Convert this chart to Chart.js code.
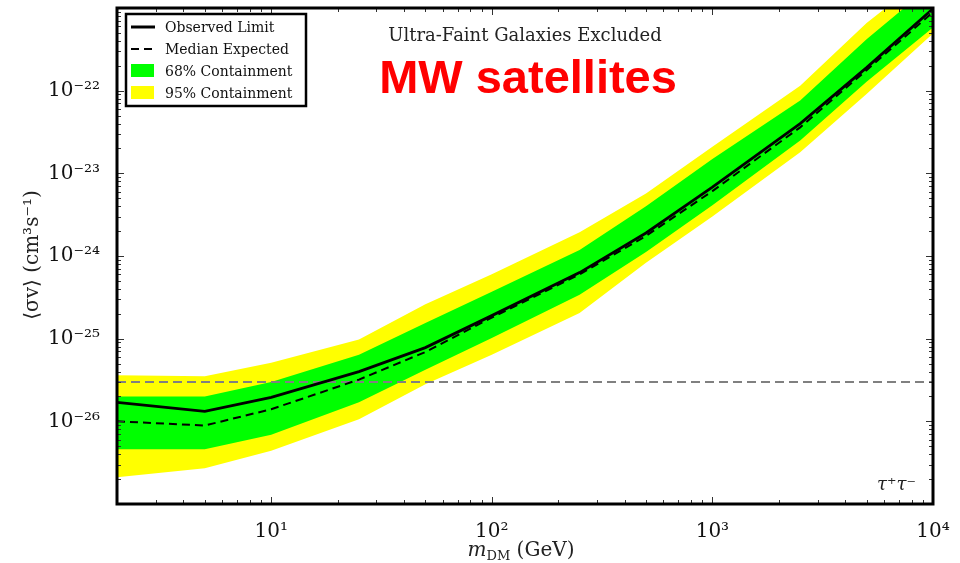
<!DOCTYPE html>
<html>
<head>
<meta charset="utf-8">
<script src="https://cdn.jsdelivr.net/npm/chart.js@4/dist/chart.umd.min.js"></script>
<style>
  html, body { margin: 0; padding: 0; background: #fff; }
  #wrap { width: 960px; height: 563px; position: relative; }
</style>
</head>
<body>
<div id="wrap"><canvas id="limitChart" width="960" height="563"></canvas></div>
<script>
// masses (GeV) and the limits (cm^3 s^-1)
const mass = [2, 5, 10, 25, 50, 100, 250, 500, 1000, 2500, 5000, 10000];
const observed = [1.7e-26, 1.32e-26, 1.95e-26, 4.0e-26, 7.8e-26, 1.9e-25, 6.3e-25, 1.9e-24, 6.8e-24, 4.0e-23, 1.9e-22, 9.8e-22];
const median = [1.0e-26, 8.9e-27, 1.4e-26, 3.2e-26, 6.9e-26, 1.8e-25, 6.0e-25, 1.75e-24, 6.1e-24, 3.6e-23, 1.77e-22, 8.9e-22];
const band68Upper = [2.0e-26, 2.0e-26, 3.0e-26, 6.4e-26, 1.55e-25, 3.7e-25, 1.18e-24, 4.0e-24, 1.49e-23, 7.6e-23, 4.2e-22, 1.95e-21];
const band68Lower = [4.6e-27, 4.6e-27, 6.9e-27, 1.7e-26, 4.2e-26, 1.02e-25, 3.4e-25, 1.12e-24, 4.1e-24, 2.5e-23, 1.28e-22, 5.8e-22];
const band95Upper = [3.6e-26, 3.5e-26, 5.1e-26, 9.8e-26, 2.6e-25, 6.0e-25, 1.94e-24, 5.7e-24, 2.1e-23, 1.15e-22, 6.6e-22, 2.8e-21];
const band95Lower = [2.1e-27, 2.7e-27, 4.4e-27, 1.06e-26, 2.8e-26, 6.4e-26, 2.05e-25, 8.3e-25, 3.0e-24, 1.8e-23, 9.1e-23, 4.9e-22];

// thermal relic cross section
const thermalMass = [2, 10000];
const thermalValue = [3e-26, 3e-26];

const xRange = [2, 1e4];
const yRange = [1e-27, 1e-21];
const xLabelExp = [1, 2, 3, 4];
const yLabelExp = [-26, -25, -24, -23, -22];

const legendItems = [
  { label: 'Observed Limit', kind: 'solid' },
  { label: 'Median Expected', kind: 'dash' },
  { label: '68% Containment', kind: 'box', color: '#00ff00' },
  { label: '95% Containment', kind: 'box', color: '#ffff00' }
];

const SERIF = '"DejaVu Serif", "Liberation Serif", serif';
const SUP = { '0': '⁰', '1': '¹', '2': '²', '3': '³', '4': '⁴', '5': '⁵', '6': '⁶', '7': '⁷', '8': '⁸', '9': '⁹', '-': '⁻' };

const toPoints = (xs, ys) => xs.map((m, i) => ({ x: m, y: ys[i] }));
const isPow10 = v => Math.abs(Math.log10(v) - Math.round(Math.log10(v))) < 1e-9;
const powLabel = e => '10' + String(e).split('').map(c => SUP[c]).join('');

// ticks at 1..9 x 10^n inside the range
function logTicks(min, max) {
  const out = [];
  for (let e = Math.floor(Math.log10(min)); e <= Math.ceil(Math.log10(max)); e++) {
    for (let k = 1; k <= 9; k++) {
      const v = k * Math.pow(10, e);
      if (v >= min * 0.999999 && v <= max * 1.000001) out.push({ value: v });
    }
  }
  return out;
}

// inward ticks on all four sides + frame + texts
const decorations = {
  id: 'decorations',
  afterDraw(chart) {
    const { ctx, chartArea: a, scales: { x, y } } = chart;
    ctx.save();
    ctx.strokeStyle = '#333';
    ctx.lineWidth = 1;
    ctx.beginPath();
    x.ticks.forEach(t => {
      const px = Math.round(x.getPixelForValue(t.value)) + 0.5;
      const len = isPow10(t.value) ? 7 : 4;
      ctx.moveTo(px, a.bottom); ctx.lineTo(px, a.bottom - len);
      ctx.moveTo(px, a.top); ctx.lineTo(px, a.top + len);
    });
    y.ticks.forEach(t => {
      const py = Math.round(y.getPixelForValue(t.value)) + 0.5;
      const len = isPow10(t.value) ? 7 : 4;
      ctx.moveTo(a.left, py); ctx.lineTo(a.left + len, py);
      ctx.moveTo(a.right, py); ctx.lineTo(a.right - len, py);
    });
    ctx.stroke();

    ctx.strokeStyle = '#000';
    ctx.lineWidth = 3;
    ctx.strokeRect(a.left, a.top, a.right - a.left, a.bottom - a.top);

    // legend box
    const lx = 126, ly = 14, lw = 180, lh = 92;
    ctx.fillStyle = '#fff';
    ctx.fillRect(lx, ly, lw, lh);
    ctx.lineWidth = 2.5;
    ctx.strokeRect(lx, ly, lw, lh);
    ctx.font = '14px ' + SERIF;
    ctx.textBaseline = 'middle';
    legendItems.forEach((it, i) => {
      const cy = ly + 13 + i * 22;
      if (it.kind === 'box') {
        ctx.fillStyle = it.color;
        ctx.fillRect(131, cy - 7, 23, 13);
      } else {
        ctx.strokeStyle = '#000';
        ctx.lineWidth = it.kind === 'solid' ? 3 : 2;
        ctx.setLineDash(it.kind === 'solid' ? [] : [8, 5]);
        ctx.beginPath();
        ctx.moveTo(131, cy); ctx.lineTo(155, cy);
        ctx.stroke();
        ctx.setLineDash([]);
      }
      ctx.fillStyle = '#111';
      ctx.textAlign = 'left';
      ctx.fillText(it.label, 165, cy + 1);
    });

    // titles
    ctx.textBaseline = 'alphabetic';
    ctx.textAlign = 'center';
    ctx.fillStyle = '#222';
    ctx.font = '18px ' + SERIF;
    ctx.fillText('Ultra-Faint Galaxies Excluded', 525, 41);
    ctx.fillStyle = '#ff0000';
    ctx.font = 'bold 47px "Liberation Sans", Arial, sans-serif';
    ctx.fillText('MW satellites', 528, 93);

    ctx.fillStyle = '#222';
    ctx.textAlign = 'right';
    ctx.font = 'italic 18px ' + SERIF;
    ctx.fillText('τ⁺τ⁻', 916, 490);

    // x axis title with subscript
    ctx.textAlign = 'left';
    const big = '20px ' + SERIF, small = '13px ' + SERIF, ital = 'italic 20px ' + SERIF;
    ctx.font = ital; const w1 = ctx.measureText('m').width;
    ctx.font = small; const w2 = ctx.measureText('DM').width;
    ctx.font = big; const w3 = ctx.measureText(' (GeV)').width;
    let tx = 521 - (w1 + w2 + w3) / 2;
    const base = 556;
    ctx.font = ital; ctx.fillText('m', tx, base); tx += w1;
    ctx.font = small; ctx.fillText('DM', tx, base + 4); tx += w2;
    ctx.font = big; ctx.fillText(' (GeV)', tx, base);

    // y axis title
    ctx.save();
    ctx.translate(38, 255);
    ctx.rotate(-Math.PI / 2);
    ctx.textAlign = 'center';
    ctx.font = '20px ' + SERIF;
    ctx.fillText('⟨σv⟩ (cm³s⁻¹)', 0, 0);
    ctx.restore();

    ctx.restore();
  }
};

const ctx = document.getElementById('limitChart').getContext('2d');
new Chart(ctx, {
  type: 'scatter',
  data: {
    datasets: [
      { label: '95% upper', data: toPoints(mass, band95Upper), showLine: true, fill: '+1',
        backgroundColor: '#ffff00', borderWidth: 0, pointRadius: 0, order: 6 },
      { label: '95% lower', data: toPoints(mass, band95Lower), showLine: true, fill: false,
        borderWidth: 0, pointRadius: 0, order: 7 },
      { label: '68% upper', data: toPoints(mass, band68Upper), showLine: true, fill: '+1',
        backgroundColor: '#00ff00', borderWidth: 0, pointRadius: 0, order: 4 },
      { label: '68% lower', data: toPoints(mass, band68Lower), showLine: true, fill: false,
        borderWidth: 0, pointRadius: 0, order: 5 },
      { label: 'Thermal relic', data: toPoints(thermalMass, thermalValue), showLine: true,
        borderColor: '#808080', borderWidth: 2, borderDash: [9, 5], pointRadius: 0, order: 3 },
      { label: 'Median Expected', data: toPoints(mass, median), showLine: true,
        borderColor: '#000', borderWidth: 2, borderDash: [8, 5], pointRadius: 0, order: 2 },
      { label: 'Observed Limit', data: toPoints(mass, observed), showLine: true,
        borderColor: '#000', borderWidth: 2.8, pointRadius: 0, order: 1 }
    ]
  },
  options: {
    responsive: false,
    animation: false,
    layout: { padding: { top: 8, right: 27, left: 0, bottom: 0 } },
    plugins: { legend: { display: false }, tooltip: { enabled: false } },
    scales: {
      x: {
        type: 'logarithmic',
        min: xRange[0], max: xRange[1],
        afterFit: s => { s.height = 59; s.paddingLeft = 0; s.paddingRight = 0; },
        afterBuildTicks: s => { s.ticks = logTicks(xRange[0], xRange[1]); },
        grid: { display: false },
        border: { display: false },
        ticks: {
          autoSkip: false, maxRotation: 0, padding: 8,
          color: '#111', font: { family: SERIF, size: 20 },
          callback: v => (isPow10(v) && xLabelExp.includes(Math.round(Math.log10(v)))) ? powLabel(Math.round(Math.log10(v))) : ''
        }
      },
      y: {
        type: 'logarithmic',
        min: yRange[0], max: yRange[1],
        afterFit: s => { s.width = 117; s.paddingTop = 0; s.paddingBottom = 0; },
        afterBuildTicks: s => { s.ticks = logTicks(yRange[0], yRange[1]); },
        grid: { display: false },
        border: { display: false },
        ticks: {
          autoSkip: false, padding: 9,
          color: '#111', font: { family: SERIF, size: 20 },
          callback: v => (isPow10(v) && yLabelExp.includes(Math.round(Math.log10(v)))) ? powLabel(Math.round(Math.log10(v))) : ''
        }
      }
    }
  },
  plugins: [decorations]
});
</script>
</body>
</html>
